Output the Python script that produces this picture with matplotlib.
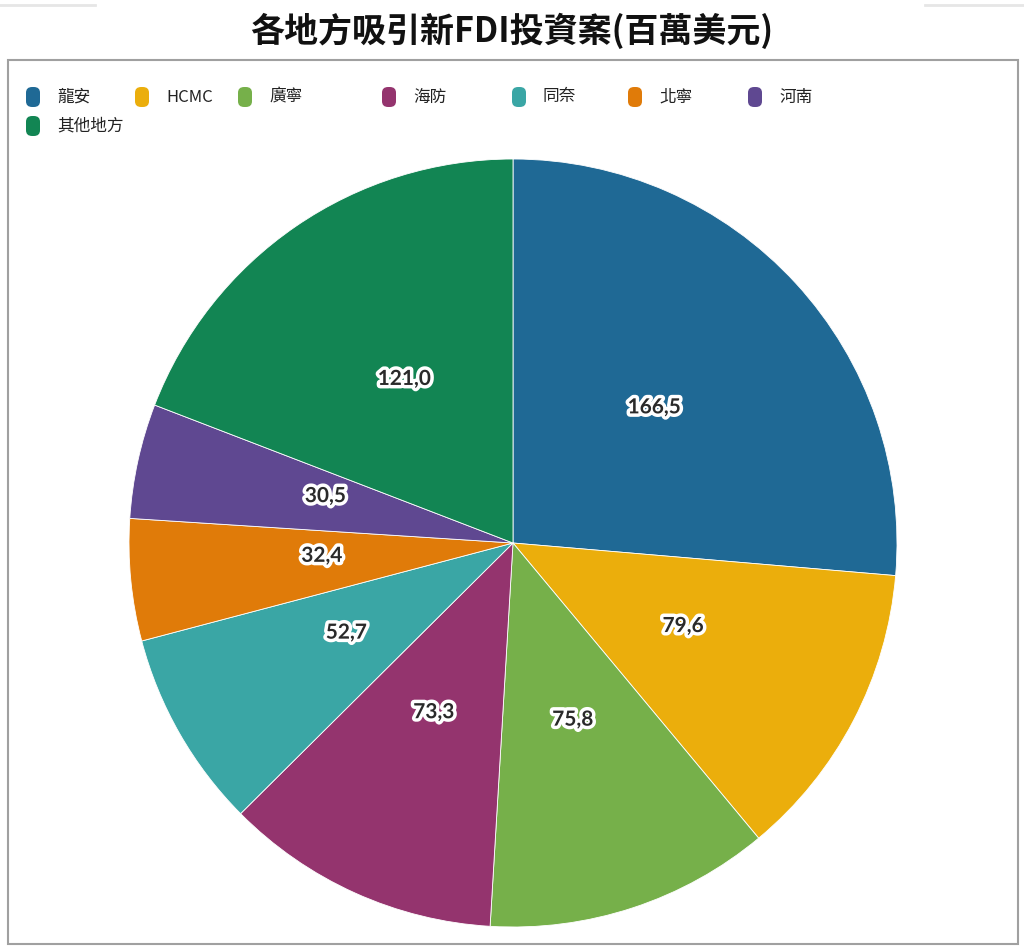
import matplotlib.pyplot as plt
import matplotlib.patheffects as pe
from matplotlib.patches import FancyBboxPatch, Rectangle

plt.rcParams['font.family'] = ['Noto Sans CJK TC', 'DejaVu Sans']

# data
regions = ['龍安', 'HCMC', '廣寧', '海防', '同奈', '北寧', '河南', '其他地方']
values = [166.5, 79.6, 75.8, 73.3, 52.7, 32.4, 30.5, 121.0]
colors = ['#1f6995', '#ebae0c', '#76b04a', '#94346e', '#3aa6a5',
          '#e07b09', '#5f4891', '#128553']
title = '各地方吸引新FDI投資案(百萬美元)'

fig = plt.figure(figsize=(10.24, 9.48), dpi=100)
W, H = 1024, 948

# frame around the chart
fig.add_artist(Rectangle((8 / W, 4 / H), 1010 / W, 884 / H, transform=fig.transFigure,
                         fill=False, edgecolor='#a0a0a0', linewidth=1.5))
fig.add_artist(plt.Line2D([0, 95 / W], [1 - 5 / H] * 2, color='#e6e6e6', lw=2))
fig.add_artist(plt.Line2D([925 / W, 1], [1 - 5 / H] * 2, color='#e6e6e6', lw=2))

fig.text(0.5, 1 - 31 / H, title, ha='center', va='center',
         fontsize=24.5, fontweight='bold', color='#111111')

# pie
cx, cy, r = 513, 543, 384
ax = fig.add_axes([(cx - r) / W, 1 - (cy + r) / H, 2 * r / W, 2 * r / H])
wedges, texts = ax.pie(values, colors=colors, startangle=90, counterclock=False,
                       labels=[f'{v:.1f}'.replace('.', ',') for v in values],
                       labeldistance=0.5,
                       wedgeprops=dict(edgecolor='white', linewidth=0.6))
for t in texts:
    x, y = t.get_position()
    t.set_position((x, y + 0.015))
    t.set_ha('center')
    t.set_va('center')
    t.set_fontfamily(['Lato', 'DejaVu Sans'])
    t.set_fontsize(15)
    t.set_fontweight('bold')
    t.set_color('#2a2a2a')
    t.set_path_effects([pe.withStroke(linewidth=5, foreground='white')])
ax.set_xlim(-1, 1)
ax.set_ylim(-1, 1)
ax.set_aspect('equal')
ax.axis('off')

# legend
legend_x = [26, 135, 238, 382, 512, 628, 748, 26]
legend_y = [97, 97, 97, 97, 97, 97, 97, 126]
for name, col, lx, ly in zip(regions, colors, legend_x, legend_y):
    fig.add_artist(FancyBboxPatch((lx / W, 1 - (ly + 10) / H), 14 / W, 20 / H,
                                  boxstyle='round,pad=0,rounding_size=0.006',
                                  transform=fig.transFigure, facecolor=col,
                                  edgecolor='none'))
    fig.text((lx + 31) / W, 1 - ly / H, name, ha='left', va='center',
             fontsize=12, color='#222222')

fig.savefig('out.png', dpi=100)
